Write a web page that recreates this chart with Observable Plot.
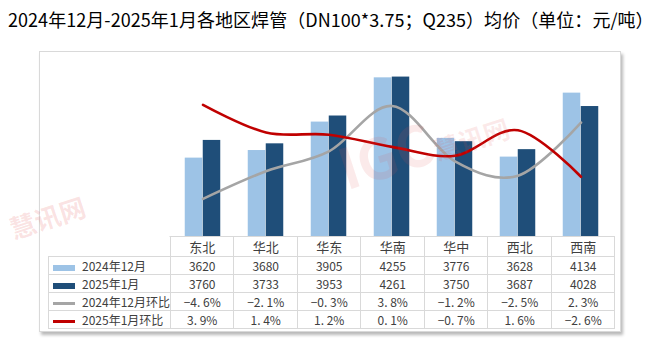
<!DOCTYPE html>
<html>
<head>
<meta charset="utf-8">
<script src="https://cdn.jsdelivr.net/npm/d3@7"></script>
<script src="https://cdn.jsdelivr.net/npm/@observablehq/plot@0.6"></script>
<style>
  html, body { margin: 0; padding: 0; background: #fff; }
  #wrap { position: relative; width: 660px; height: 352px; overflow: hidden; font-family: "Noto Sans CJK SC", "Noto Sans", sans-serif; }
  #title { position: absolute; left: 8px; top: 6px; font-size: 18px; color: #000; white-space: nowrap; letter-spacing: 0.05px; }
  #frame { position: absolute; left: 39px; top: 51px; width: 580px; height: 279px; border: 1px solid #d9d9d9; box-shadow: 2px 3px 3px rgba(0,0,0,0.28); background: #fff; }
  #chart { position: absolute; left: 0; top: 0; }
  #tbl { position: absolute; left: 48px; top: 236px; border-collapse: collapse; table-layout: fixed; font-size: 12px; color: #404040; }
  #tbl td { padding: 0; border: 1px solid #d9d9d9; text-align: center; white-space: nowrap; overflow: hidden; }
  #tbl tr.hdr td { height: 19px; font-size: 13px; }
  #tbl tr.row td { height: 17px; line-height: 17px; }
  #tbl tr.hdr td.blank { border-top: none; border-left: none; border-bottom-color: #d9d9d9; }
  #tbl td.lg { text-align: left; padding-left: 4px; }
  .sw { display: inline-block; width: 22px; vertical-align: middle; margin-right: 7px; }
  .wm { position: absolute; color: rgba(225, 80, 80, 0.16); font-weight: bold; white-space: nowrap; pointer-events: none; }
</style>
</head>
<body>
<div id="wrap">
  <div id="title">2024年12月-2025年1月各地区焊管（DN100*3.75；Q235）均价（单位：元/吨）</div>
  <div id="frame"></div>
  <div class="wm" style="left:8px; top:198px; font-size:26px; transform: rotate(-18deg);">慧讯网</div>
  <div id="chart"></div>
  <div class="wm" style="left:335px; top:100px; font-size:56px; transform: rotate(-18deg); color: rgba(225,80,80,0.12);">IGC<span style="font-size:26px">慧讯网</span></div>
  <table id="tbl"></table>
</div>
<script>
// ---- data ----
const regions = ["东北", "华北", "华东", "华南", "华中", "西北", "西南"];
const seriesNames = ["2024年12月", "2025年1月", "2024年12月环比", "2025年1月环比"];
const priceDec2024 = [3620, 3680, 3905, 4255, 3776, 3628, 4134];
const priceJan2025 = [3760, 3733, 3953, 4261, 3750, 3687, 4028];
const momDec2024 = [-4.6, -2.1, -0.3, 3.8, -1.2, -2.5, 2.3];
const momJan2025 = [3.9, 1.4, 1.2, 0.1, -0.7, 1.6, -2.6];
const priceAxis = [3000, 4400];   // hidden primary axis
const pctAxis = [-8, 8];          // hidden secondary axis (%)

// ---- styles ----
const cLight = "#9DC3E6", cDark = "#1F4E79", cGray = "#A5A5A5", cRed = "#C00000";

const rows = regions.map((r, i) => ({
  region: r, dec: priceDec2024[i], jan: priceJan2025[i],
  momDec: momDec2024[i], momJan: momJan2025[i]
}));

// map secondary axis onto primary
const pctToPrice = d3.scaleLinear().domain(pctAxis).range(priceAxis);

const step = 63.5, barW = 18, groupPad = (step - 2 * barW) / 2;

const chart = Plot.plot({
  width: 660,
  height: 237,
  marginLeft: 169.5,
  marginRight: 46,
  marginTop: 59,
  marginBottom: 1,
  x: { domain: regions, padding: 0, axis: null },
  y: { domain: priceAxis, axis: null },
  marks: [
    Plot.barY(rows, { x: "region", y1: () => priceAxis[0], y2: "dec", fill: cLight,
      insetLeft: groupPad, insetRight: groupPad + barW }),
    Plot.barY(rows, { x: "region", y1: () => priceAxis[0], y2: "jan", fill: cDark,
      insetLeft: groupPad + barW, insetRight: groupPad }),
    Plot.line(rows, { x: "region", y: d => pctToPrice(d.momDec), stroke: cGray, strokeWidth: 2.6, curve: "cardinal", tension: 0 }),
    Plot.line(rows, { x: "region", y: d => pctToPrice(d.momJan), stroke: cRed, strokeWidth: 2.6, curve: "cardinal", tension: 0 }),
    Plot.ruleY([priceAxis[0]], { stroke: "#d9d9d9", strokeWidth: 1 })
  ]
});
chart.style.background = "transparent";
document.getElementById("chart").appendChild(chart);

// ---- data table ----
const tbl = document.getElementById("tbl");
const cg = document.createElement("colgroup");
cg.innerHTML = `<col style="width:121.5px">` + regions.map(() => `<col style="width:${step}px">`).join("");
tbl.appendChild(cg);
const hdr = document.createElement("tr");
hdr.className = "hdr";
hdr.innerHTML = `<td class="blank"></td>` + regions.map(r => `<td>${r}</td>`).join("");
tbl.appendChild(hdr);

const fmtPct = v => (v < 0 ? "−" : "") + Math.abs(v).toFixed(1).replace(".", ". ") + "%";
const tableRows = [
  { name: seriesNames[0], sw: `<span class="sw" style="height:6px;background:${cLight}"></span>`, vals: priceDec2024.map(String) },
  { name: seriesNames[1], sw: `<span class="sw" style="height:6px;background:${cDark}"></span>`, vals: priceJan2025.map(String) },
  { name: seriesNames[2], sw: `<span class="sw" style="height:3px;background:${cGray}"></span>`, vals: momDec2024.map(fmtPct) },
  { name: seriesNames[3], sw: `<span class="sw" style="height:3px;background:${cRed}"></span>`, vals: momJan2025.map(fmtPct) }
];
for (const tr of tableRows) {
  const el = document.createElement("tr");
  el.className = "row";
  el.innerHTML = `<td class="lg">${tr.sw}${tr.name}</td>` + tr.vals.map(v => `<td>${v}</td>`).join("");
  tbl.appendChild(el);
}
</script>
</body>
</html>
